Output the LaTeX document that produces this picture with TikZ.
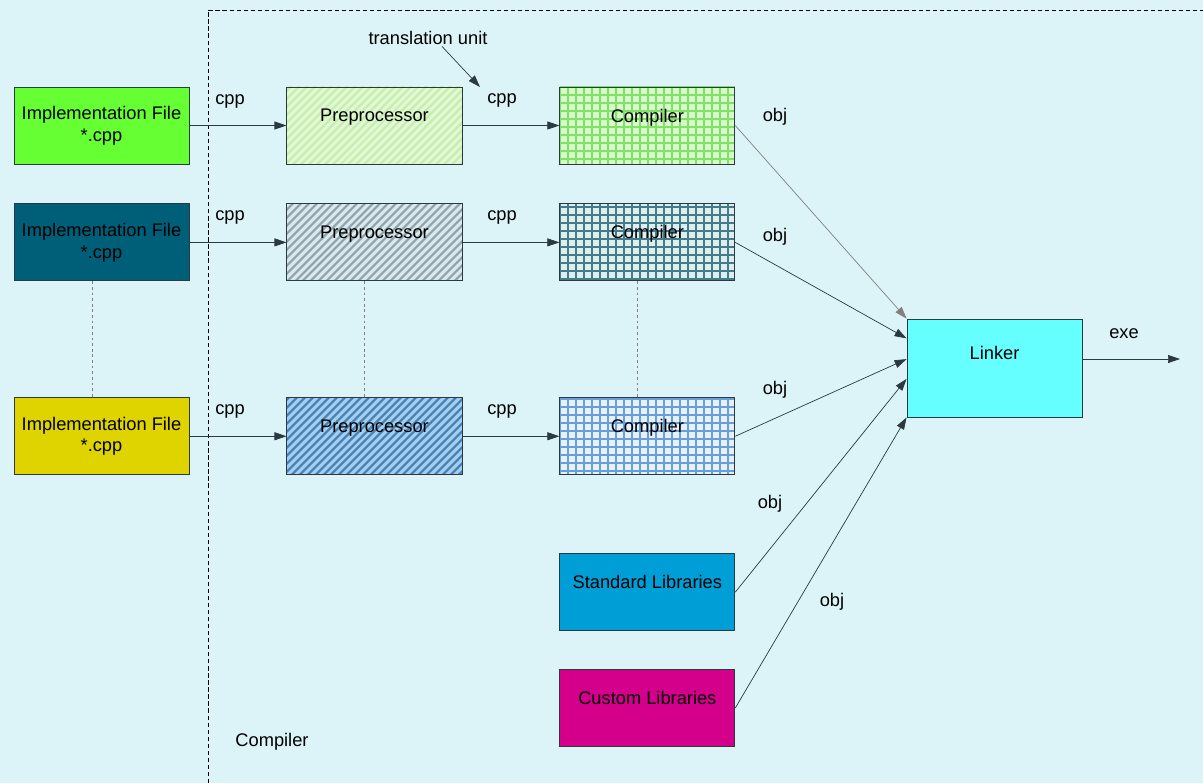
\documentclass[tikz,border=0pt]{standalone}
\usepackage{fontspec}
\setmainfont{Liberation Sans}
\usetikzlibrary{positioning,arrows.meta,patterns.meta,calc}

\definecolor{bgcol}{HTML}{DCF4F8}
\definecolor{implA}{HTML}{66FF33}
\definecolor{implB}{HTML}{005F78}
\definecolor{implC}{HTML}{E0D400}
\definecolor{prepAbg}{HTML}{E2F8D4}
\definecolor{prepAfg}{HTML}{C4EEAC}
\definecolor{prepBbg}{HTML}{DCE8EC}
\definecolor{prepBfg}{HTML}{8CA6AE}
\definecolor{prepCbg}{HTML}{A4CEEE}
\definecolor{prepCfg}{HTML}{4680B4}
\definecolor{compAbg}{HTML}{D6FACA}
\definecolor{compAfg}{HTML}{80E068}
\definecolor{compBbg}{HTML}{DCEEF0}
\definecolor{compBfg}{HTML}{457A88}
\definecolor{compCbg}{HTML}{E4F0FC}
\definecolor{compCfg}{HTML}{6A9ED6}
\definecolor{stdcol}{HTML}{009ED6}
\definecolor{custcol}{HTML}{D4008C}
\definecolor{linkcol}{HTML}{66FFFF}
\definecolor{edgecol}{HTML}{2A3A40}

\tikzset{
  box/.style={draw=edgecol, line width=0.6pt, minimum width=4.375cm,
    minimum height=1.925cm, inner sep=0pt, align=center},
  onerow/.style={text depth=0.5cm},
  impl/.style={box, fill=#1},
  prep/.style 2 args={box, onerow, fill=#1,
    postaction={pattern={Lines[angle=45,distance=0.14cm,line width=1.6pt]}, pattern color=#2},
    postaction={draw=edgecol, line width=0.6pt}},
  comp/.style 2 args={box, onerow, fill=#1,
    postaction={pattern={Lines[angle=0,distance=0.2cm,line width=1.2pt]}, pattern color=#2},
    postaction={pattern={Lines[angle=90,distance=0.2cm,line width=1.2pt]}, pattern color=#2},
    postaction={draw=edgecol, line width=0.6pt}},
  flow/.style={draw=edgecol, line width=0.5pt, -{Triangle[length=0.3cm,width=0.2cm]}},
  tie/.style={draw=gray, line width=0.5pt, dash pattern=on 2pt off 2pt},
  lbl/.style={inner sep=1pt}
}

\begin{document}
\begin{tikzpicture}[x=0.025cm, y=-0.025cm, node distance=0.975cm and 2.425cm,
    every node/.append style={font=\fontsize{13}{15.5}\selectfont}]
  \fill[bgcol] (0,0) rectangle (1203,783);
  \useasboundingbox (0,0) rectangle (1203,783);

  % compiler frame
  \draw[line width=0.6pt, dash pattern=on 3pt off 2pt] (208,783) -- (208,10) -- (1203,10);
  \node[lbl] (frame) at (272,742) {Compiler};

  % sources
  \node[impl=implA] (src1) at (101.5,125.5) {Implementation File\\*.cpp};
  \node[impl=implB, below=of src1] (src2) {Implementation File\\*.cpp};
  \node[impl=implC, below=2.9cm of src2] (src3) {Implementation File\\*.cpp};

  % preprocessors
  \node[prep={prepAbg}{prepAfg}, right=of src1] (pre1) {Preprocessor};
  \node[prep={prepBbg}{prepBfg}, right=of src2] (pre2) {Preprocessor};
  \node[prep={prepCbg}{prepCfg}, right=of src3] (pre3) {Preprocessor};

  % compilers
  \node[comp={compAbg}{compAfg}, right=of pre1] (cc1) {Compiler};
  \node[comp={compBbg}{compBfg}, right=of pre2] (cc2) {Compiler};
  \node[comp={compCbg}{compCfg}, right=of pre3] (cc3) {Compiler};

  % libraries
  \node[box, onerow, fill=stdcol, below=1.95cm of cc3] (stdlib) {Standard Libraries};
  \node[box, onerow, fill=custcol, below=0.95cm of stdlib] (custlib) {Custom Libraries};

  % linker
  \node[box, fill=linkcol, minimum height=2.45cm, text depth=0.75cm] (link) at (994.5,368) {Linker};
  \coordinate (out) at (1180,359);

  % labels
  \node[lbl] (tu) at (428,38) {translation unit};
  \coordinate (tutip) at (480,87);
  \node[lbl] (cpp1) at (230,101) {cpp};
  \node[lbl] (cpp2) at (230,217) {cpp};
  \node[lbl] (cpp3) at (230,411) {cpp};
  \node[lbl] (cpp4) at (502,100) {cpp};
  \node[lbl] (cpp5) at (502,217) {cpp};
  \node[lbl] (cpp6) at (502,411) {cpp};
  \node[lbl] (obj1) at (775,117) {obj};
  \node[lbl] (obj2) at (775,237) {obj};
  \node[lbl] (obj3) at (775,390) {obj};
  \node[lbl] (obj4) at (770,504) {obj};
  \node[lbl] (obj5) at (832,602) {obj};
  \node[lbl] (exe) at (1124,334) {exe};

  \foreach \i in {1,2,3} {
    \draw[flow] (src\i) -- (pre\i);
    \draw[flow] (pre\i) -- (cc\i);
  }
  \draw[flow] ([xshift=0.35cm]tu.south) -- (tutip);

  \draw[tie] ([xshift=-0.24cm]src2.south) -- ([xshift=-0.24cm]src3.north);
  \draw[tie] ([xshift=-0.24cm]pre2.south) -- ([xshift=-0.24cm]pre3.north);
  \draw[tie] ([xshift=-0.24cm]cc2.south) -- ([xshift=-0.24cm]cc3.north);

  \draw[flow, draw=gray] (cc1.east) -- (link.north west);
  \draw[flow] (cc2.east) -- ($(link.north west)!0.2!(link.south west)$);
  \draw[flow] (cc3.east) -- ($(link.north west)!0.41!(link.south west)$);
  \draw[flow] (stdlib.east) -- ($(link.north west)!0.61!(link.south west)$);
  \draw[flow] (custlib.east) -- (link.south west);
  \draw[flow] (link.east |- out) -- (out);
\end{tikzpicture}
\end{document}
